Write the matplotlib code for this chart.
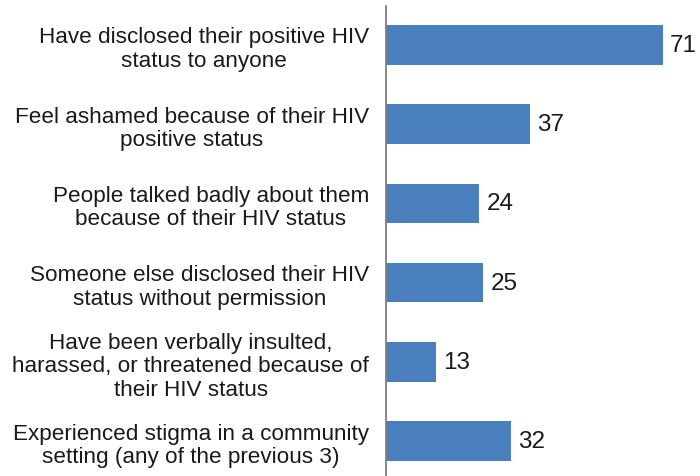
import matplotlib
matplotlib.use('Agg')
import matplotlib.pyplot as plt

plt.rcParams['font.family'] = ['Liberation Sans', 'DejaVu Sans']

categories = [
    'Have disclosed their positive HIV\nstatus to anyone',
    'Feel ashamed because of their HIV\npositive status',
    'People talked badly about them\nbecause of their HIV status',
    'Someone else disclosed their HIV\nstatus without permission',
    'Have been verbally insulted,\nharassed, or threatened because of\ntheir HIV status',
    'Experienced stigma in a community\nsetting (any of the previous 3)',
]
values = [71, 37, 24, 25, 13, 32]

fig = plt.figure(figsize=(7, 4.77), dpi=100)
ax = fig.add_axes([0.551, 0.0, 0.449, 0.985])

y = list(range(len(values)))
ax.barh(y, values, height=0.5, color='#4A7FBE')
ax.set_ylim(5.44, -0.49)
ax.set_xlim(0, 80.5)

for yi, v in zip(y, values):
    ax.text(v + 1.8, yi, str(v), va='center', ha='left', fontsize=17.5, color='#1a1a1a')

ax.set_yticks(y)
ax.set_yticklabels(categories, fontsize=16.2, color='#1a1a1a', linespacing=1.15,
                   multialignment='center')
ax.tick_params(axis='y', length=0, pad=12)
ax.set_xticks([])

for s in ['top', 'right', 'bottom']:
    ax.spines[s].set_visible(False)
ax.spines['left'].set_color('#808080')
ax.spines['left'].set_linewidth(1.3)

fig.savefig('out.png', dpi=100)
